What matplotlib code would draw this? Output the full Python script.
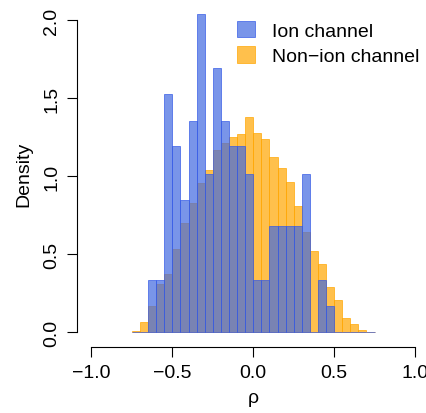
import numpy as np
import matplotlib
matplotlib.use("Agg")
import matplotlib.pyplot as plt

plt.rcParams['font.family'] = ['Liberation Sans', 'DejaVu Sans']

# bin edges of the histograms (width 0.05)
bin_lo = -0.75
bin_hi = 0.75

# density per bin (left to right, -0.75 .. 0.75)
ion_density = [0.0, 0.0, 0.335, 0.335, 1.523, 1.19, 0.848, 1.356, 2.036, 1.015,
               1.694, 1.356, 1.19, 1.19, 1.015, 0.335, 0.335, 0.68, 0.68, 0.68,
               0.68, 1.015, 0.0, 0.335, 0.17, 0.0, 0.0, 0.0, 0.0, 0.0]
nonion_density = [0.010, 0.064, 0.167, 0.308, 0.374, 0.534, 0.701, 0.829, 0.957, 1.042,
                  1.169, 1.213, 1.25, 1.267, 1.38, 1.276, 1.24, 1.12, 1.05, 0.96,
                  0.81, 0.645, 0.52, 0.44, 0.29, 0.205, 0.094, 0.051, 0.013, 0.005]

edges = np.linspace(bin_lo, bin_hi, len(ion_density) + 1)
centers = (edges[:-1] + edges[1:]) / 2

fig = plt.figure(figsize=(4.27, 4.14), dpi=100)
W, H = 427.0, 414.0
# pixel layout: x -1 -> 91.5, 1 -> 415 ; y 0 -> 333.3, 2 -> 21
xpx = (415 - 91.5) / 2.0
ypx = (333.3 - 21) / 2.0
xlim = (-1.06, 1.06)
ylim = (-0.05, 2.08)
left = 91.5 - (-1 - xlim[0]) * xpx
right = 415 + (xlim[1] - 1) * xpx
bottom = 333.3 + (0 - ylim[0]) * ypx
top = 21 - (ylim[1] - 2) * ypx
ax = fig.add_axes([left / W, 1 - bottom / H, (right - left) / W, (bottom - top) / H])

ax.hist(centers, bins=edges, weights=nonion_density, color=(1.0, 0.65, 0.0, 0.7),
        edgecolor=(1.0, 0.65, 0.0, 0.8), linewidth=0.6, label='Non\u2212ion channel')
ax.hist(centers, bins=edges, weights=ion_density, color=(0.255, 0.41, 0.88, 0.7),
        edgecolor=(0.2, 0.35, 0.9, 0.8), linewidth=0.6, label='Ion channel')

ax.set_xlim(*xlim)
ax.set_ylim(*ylim)
for s in ['top', 'right']:
    ax.spines[s].set_visible(False)
ax.spines['bottom'].set_position(('outward', 5))
ax.spines['left'].set_position(('outward', 3.5))
ax.spines['bottom'].set_bounds(-1, 1)
ax.spines['left'].set_bounds(0, 2)
ax.set_xticks([-1, -0.5, 0, 0.5, 1])
ax.set_xticklabels(['\u22121.0', '\u22120.5', '0.0', '0.5', '1.0'], fontsize=14)
ax.set_yticks([0, 0.5, 1, 1.5, 2])
ax.set_yticklabels(['0.0', '0.5', '1.0', '1.5', '2.0'], fontsize=14, rotation=90, va='center')
ax.tick_params(length=7, width=0.8, pad=5)
ax.set_xlabel('\u03c1', fontsize=14, labelpad=6)
ax.set_ylabel('Density', fontsize=14, labelpad=8)

handles, labels = ax.get_legend_handles_labels()
ax.legend(handles[::-1], labels[::-1], loc='upper left', bbox_to_anchor=(0.42, 0.995),
          frameon=False, fontsize=14, handlelength=0.9, handleheight=0.9,
          handletextpad=0.9, labelspacing=0.35, borderaxespad=0.2)

fig.savefig('out.png', dpi=100)
